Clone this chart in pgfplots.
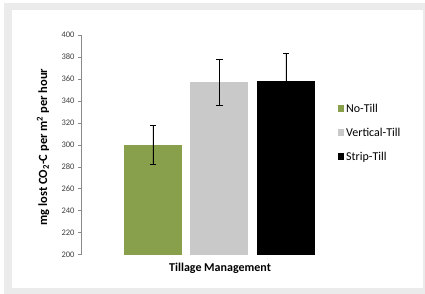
\documentclass[border=0pt]{standalone}
\usepackage{pgfplots}
\pgfplotsset{compat=1.18}
\usepackage{fontspec}
\setmainfont{Carlito}
\definecolor{frame}{HTML}{EBEBEB}
\definecolor{olive}{HTML}{88A04B}
\definecolor{lgray}{HTML}{C9C9C9}
\definecolor{axgray}{HTML}{8A8A8A}
\begin{document}
\begin{tikzpicture}[x=1pt,y=1pt]
\fill[white] (0,0) rectangle (425,294);
\fill[frame] (4,0) rectangle (425,291);
\fill[white] (12,6) rectangle (423,284);
\useasboundingbox (0,0) rectangle (425,294);
\begin{axis}[
  at={(81pt,39.3pt)}, anchor=south west,
  scale only axis, width=277pt, height=219.7pt,
  xmin=-0.0827, xmax=4.083,
  ymin=200, ymax=400,
  ytick={200,220,...,400},
  xtick=\empty,
  axis x line*=bottom,
  x axis line style={draw=none},
  axis y line*=left,
  y axis line style={axgray, line width=0.6pt},
  ytick style={axgray, line width=0.6pt},
  tick align=outside, major tick length=3pt,
  /pgf/number format/assume math mode=true,
  yticklabel style={font=\fontsize{8.5}{10}\selectfont, text=black!75},
  ylabel={\textbf{mg lost CO\textsubscript{2}-C per m\textsuperscript{2} per hour}},
  ylabel style={at={(axis description cs:-0.137,0.49)}, anchor=center, font=\fontsize{12.5}{14}\selectfont},
  xlabel={\textbf{Tillage Management}},
  xlabel style={at={(axis description cs:0.502,-0.062)}, anchor=center, font=\fontsize{12}{14}\selectfont},
  ybar, bar shift=0pt, bar width=0.872,
  legend style={at={(axis description cs:0.915,0.555)}, anchor=west, draw=none, fill=none,
    font=\fontsize{12}{14}\selectfont, row sep=10pt,
    legend cell align=left},
  legend image code/.code={\fill[#1] (0pt,-3pt) rectangle (6.5pt,3.5pt);},
  error bars/y dir=both, error bars/y explicit,
  error bars/error bar style={black, line width=0.7pt},
  error bars/error mark options={rotate=90, black, mark size=3.2pt, line width=0.7pt},
]
\addplot[fill=olive, draw=none] coordinates {(1,300) +- (0,17.5)};
\addlegendentry{No-Till}
\addplot[fill=lgray, draw=none] coordinates {(2,357) +- (0,21)};
\addlegendentry{Vertical-Till}
\addplot[fill=black, draw=none] coordinates {(3,358) +- (0,25)};
\addlegendentry{Strip-Till}
\end{axis}
\end{tikzpicture}
\end{document}
